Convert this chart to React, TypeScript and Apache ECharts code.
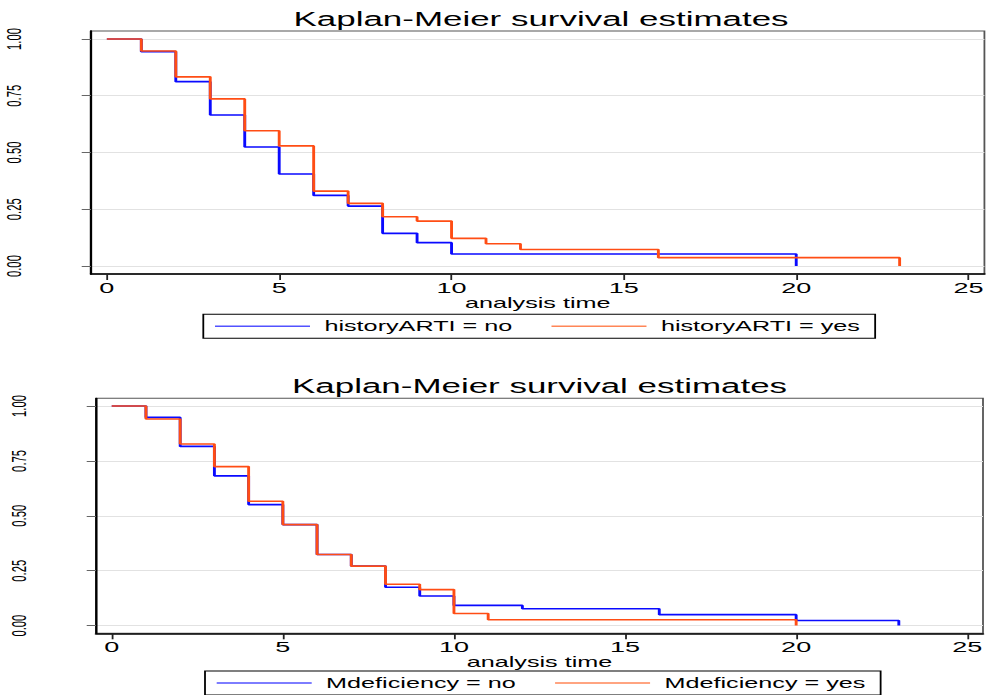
import React, { useEffect, useRef } from "react";
import * as echarts from "echarts";

// The figure is laid out on a narrow canvas and then widened horizontally,
// which is how the exported Stata graph was produced (wide glyphs, thick verticals).
const PAGE_W = 989;
const PAGE_H = 695;
const BASE_W = 549;
const STRETCH = PAGE_W / BASE_W;
const sx = (px: number) => px / STRETCH;

const FONT = '"Liberation Sans", Arial, Helvetica, sans-serif';

const TITLE = "Kaplan-Meier survival estimates";
const X_NAME = "analysis time";
const X_TICKS = [0, 5, 10, 15, 20, 25];
const Y_TICKS = [0, 0.25, 0.5, 0.75, 1];

// Panel 1: history of ARTI
const historyNames = ["historyARTI = no", "historyARTI = yes"];
const historyNoTime = [0, 1, 2, 3, 4, 5, 6, 7, 8, 9, 10, 20];
const historyNoSurv = [1, 0.944, 0.812, 0.665, 0.524, 0.405, 0.311, 0.264, 0.144, 0.103, 0.053, 0];
const historyYesTime = [0, 1, 2, 3, 4, 5, 6, 7, 8, 9, 10, 11, 12, 16, 23];
const historyYesSurv = [1, 0.947, 0.833, 0.736, 0.596, 0.529, 0.33, 0.276, 0.217, 0.198, 0.122, 0.098, 0.073, 0.037, 0];

// Panel 2: M deficiency
const mdefNames = ["Mdeficiency = no", "Mdeficiency = yes"];
const mdefNoTime = [0, 1, 2, 3, 4, 5, 6, 7, 8, 9, 10, 12, 16, 20, 23];
const mdefNoSurv = [1, 0.948, 0.816, 0.682, 0.551, 0.46, 0.324, 0.271, 0.175, 0.135, 0.092, 0.077, 0.05, 0.023, 0];
const mdefYesTime = [0, 1, 2, 3, 4, 5, 6, 7, 8, 9, 10, 11, 20];
const mdefYesSurv = [1, 0.941, 0.827, 0.724, 0.566, 0.46, 0.324, 0.271, 0.188, 0.164, 0.055, 0.027, 0];

const BLUE = "#0a0aff";
const ORANGE = "#ff4d14";
const BLUE_KEY = "#5252ff";
const ORANGE_KEY = "#ff8657";

const zip = (t: number[], s: number[]) => t.map((v, i) => [v, s[i]]);

const panels = [
  { left: 91, right: 991.5, top: 31, bottom: 274, legendLeft: 203.3, legendTop: 314.3, titleX: 541, titleY: 19.5, names: historyNames },
  { left: 96, right: 983, top: 398.3, bottom: 633.3, legendLeft: 205, legendTop: 671, titleX: 539.5, titleY: 386.3, names: mdefNames },
];

function buildOption() {
  const grid = panels.map((p) => ({
    left: sx(p.left),
    top: p.top,
    width: sx(p.right - p.left),
    height: p.bottom - p.top,
    show: true,
    borderColor: "#555",
    borderWidth: 1,
    backgroundColor: "#fff",
  }));

  const xAxis = panels.map((_, i) => ({
    type: "value",
    gridIndex: i,
    min: -0.46,
    max: 25.46,
    name: X_NAME,
    nameLocation: "middle",
    nameGap: 18.5,
    nameTextStyle: { fontSize: 14, color: "#000", fontFamily: FONT },
    axisLine: { show: true, onZero: false, lineStyle: { color: "#000", width: 1.5 } },
    axisTick: { show: true, customValues: X_TICKS, length: 6, lineStyle: { color: "#222", width: 1 } },
    axisLabel: { customValues: X_TICKS, fontSize: 15, margin: 6, color: "#000", fontFamily: FONT },
    splitLine: { show: false },
  }));

  const yAxis = panels.map((_, i) => ({
    type: "value",
    gridIndex: i,
    min: -0.035,
    max: 1.035,
    axisLine: { show: true, onZero: false, lineStyle: { color: "#000", width: 1.3 } },
    axisTick: { show: true, customValues: Y_TICKS, length: sx(9.3), lineStyle: { color: "#666", width: 1 } },
    axisLabel: {
      customValues: Y_TICKS,
      rotate: 90,
      fontSize: 11.3,
      margin: 37.5,
      color: "#000",
      fontFamily: FONT,
      formatter: (v: number) => v.toFixed(2),
    },
    splitLine: { show: true, lineStyle: { color: "#e2e2e2", width: 1.2 } },
  }));

  const curve = (name: string, idx: number, t: number[], s: number[], color: string, z: number) => ({
    type: "line",
    name,
    xAxisIndex: idx,
    yAxisIndex: idx,
    data: zip(t, s),
    step: "end",
    symbol: "none",
    silent: true,
    z,
    lineStyle: { color, width: 1.6 },
    itemStyle: { color },
  });

  const series = [
    curve(historyNames[0], 0, historyNoTime, historyNoSurv, BLUE, 3),
    curve(historyNames[1], 0, historyYesTime, historyYesSurv, ORANGE, 4),
    curve(mdefNames[0], 1, mdefNoTime, mdefNoSurv, BLUE, 3),
    curve(mdefNames[1], 1, mdefYesTime, mdefYesSurv, ORANGE, 4),
  ];

  const legend = panels.map((p) => ({
    data: [
      { name: p.names[0], itemStyle: { color: BLUE_KEY, borderWidth: 0 } },
      { name: p.names[1], itemStyle: { color: ORANGE_KEY, borderWidth: 0 } },
    ],
    left: sx(p.legendLeft),
    top: p.legendTop,
    orient: "horizontal",
    icon: "rect",
    itemWidth: sx(95),
    itemHeight: 1.6,
    itemGap: sx(39),
    padding: [5, sx(15), 5, sx(11.7)],
    borderColor: "#000",
    borderWidth: 1,
    selectedMode: false,
    textStyle: { fontSize: 14, color: "#000", fontFamily: FONT, padding: [0, 0, 0, 3] },
  }));

  const graphic = panels.map((p) => ({
    type: "text",
    x: sx(p.titleX),
    y: p.titleY,
    silent: true,
    style: {
      text: TITLE,
      fontSize: 19.4,
      fontFamily: FONT,
      fill: "#000",
      align: "center",
      verticalAlign: "middle",
    },
  }));

  return {
    animation: false,
    backgroundColor: "#fff",
    grid,
    xAxis,
    yAxis,
    series,
    legend,
    graphic,
  };
}

export default function App() {
  const ref = useRef<HTMLDivElement>(null);

  useEffect(() => {
    if (!ref.current) return;
    const chart = echarts.init(ref.current, null, { renderer: "svg", width: BASE_W, height: PAGE_H });
    chart.setOption(buildOption() as any);
    return () => chart.dispose();
  }, []);

  return (
    <div
      ref={ref}
      style={{
        position: "fixed",
        left: 0,
        top: 0,
        width: BASE_W,
        height: PAGE_H,
        transform: `scaleX(${STRETCH})`,
        transformOrigin: "0 0",
        background: "#fff",
      }}
    />
  );
}
